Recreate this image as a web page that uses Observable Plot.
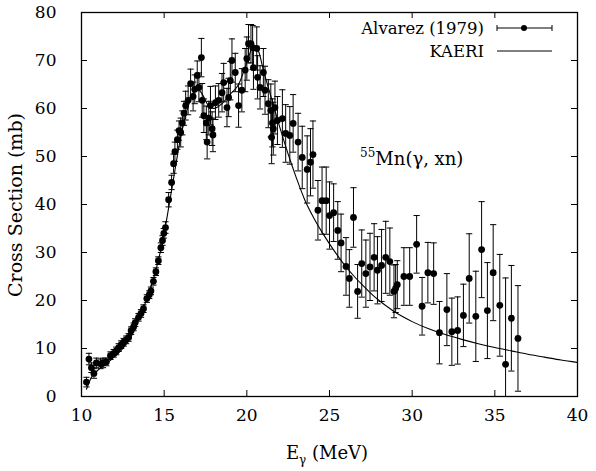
<!DOCTYPE html>
<html><head><meta charset="utf-8">
<script src="https://cdn.jsdelivr.net/npm/d3@7"></script>
<script src="https://cdn.jsdelivr.net/npm/@observablehq/plot@0.6"></script>
<style>body{margin:0;background:#fff}</style>
</head><body><div id="chart"></div>
<script>
// Alvarez (1979) data: photon energy (MeV), cross section (mb), error (mb)
const alvarezE = [10.3,10.45,10.6,10.75,10.9,11.15,11.3,11.5,11.75,11.95,12.1,12.25,12.4,12.55,12.7,12.85,13.0,13.15,13.25,13.45,13.6,13.75,13.95,14.1,14.2,14.35,14.5,14.65,14.8,14.9,14.98,15.08,15.27,15.45,15.57,15.65,15.8,15.9,16.0,16.1,16.2,16.3,16.45,16.6,16.75,16.85,17.0,17.1,17.25,17.3,17.4,17.55,17.6,17.7,17.8,17.9,17.95,18.1,18.3,18.5,18.6,18.8,18.9,19.0,19.1,19.3,19.5,19.7,19.9,20.0,20.1,20.25,20.35,20.4,20.6,20.65,20.8,21.0,21.1,21.3,21.45,21.5,21.55,21.6,21.7,21.85,22.15,22.35,22.6,22.8,23.1,23.35,23.65,23.85,24.0,24.3,24.55,24.8,25.0,25.25,25.5,25.7,26.0,26.2,26.45,26.7,26.95,27.2,27.45,27.7,27.9,28.15,28.4,28.65,28.9,29.0,29.1,29.5,29.85,30.27,30.6,30.95,31.3,31.65,32.1,32.4,32.75,33.1,33.45,33.85,34.2,34.55,34.9,35.3,35.65,36.0,36.4];
const alvarezSigma = [3.0,7.8,6.0,4.8,7.0,6.8,7.0,7.2,8.5,9.0,9.5,10.2,10.8,11.3,11.8,12.3,13.7,14.5,15.4,16.5,17.3,18.3,20.4,21.2,22.0,24.0,26.0,28.3,31.0,32.5,34.0,35.2,41.0,44.6,48.5,51.0,53.5,55.4,55.0,57.0,59.0,60.6,61.7,65.2,62.5,64.0,66.9,64.4,70.6,61.7,58.5,57.0,53.0,58.0,60.6,55.8,54.5,61.2,61.7,63.3,65.4,60.2,62.3,65.8,70.0,67.5,60.6,63.8,68.0,70.4,73.5,73.5,72.7,68.5,72.5,66.5,64.4,67.5,63.8,61.0,59.6,54.0,57.0,55.8,60.2,57.5,57.9,54.8,54.4,56.9,53.0,49.8,47.3,48.8,50.4,38.8,40.8,40.8,37.7,38.3,34.6,32.0,27.1,24.6,37.3,21.9,27.7,25.6,27.0,29.0,26.3,27.3,29.0,28.1,21.9,22.5,23.3,25.0,25.0,31.7,18.8,25.8,25.6,13.3,18.1,13.5,13.75,16.9,24.6,16.7,30.6,17.9,25.8,19.0,6.7,16.3,12.1];
const alvarezErr = [1.0,1.2,1.0,1.0,1.0,1.0,1.0,0.8,0.8,0.8,0.8,0.8,0.8,0.8,0.8,0.8,0.8,0.8,0.8,0.8,0.8,0.8,0.8,0.8,0.8,0.8,0.8,0.8,1.0,1.0,1.0,1.2,1.5,1.5,2.0,2.0,2.0,2.0,3.0,2.5,2.5,3.0,3.0,3.0,3.0,3.0,3.0,3.0,4.0,3.5,3.5,3.5,3.5,3.5,4.0,3.5,3.5,3.5,3.5,4.0,4.0,4.0,4.0,4.0,4.5,4.0,4.5,4.5,4.5,4.5,4.0,4.0,4.6,4.5,4.5,4.5,4.5,5.0,5.0,5.0,5.5,5.5,5.0,5.5,5.5,5.0,6.0,6.0,6.0,6.0,6.0,6.5,7.0,7.0,7.0,6.2,7.0,7.0,7.0,6.0,6.0,6.0,6.0,6.0,6.2,5.6,7.0,7.0,7.0,7.0,7.0,7.5,7.5,7.0,5.5,5.0,5.0,6.0,6.0,6.0,6.0,6.3,6.4,6.5,7.5,7.0,7.0,6.5,9.3,9.4,10.0,10.0,10.0,10.6,18.0,11.0,11.0];

// KAERI evaluation
const kaeriE = [10.3,10.6,11.0,11.5,12.0,12.5,13.0,13.5,14.0,14.5,15.0,15.5,16.0,16.5,17.0,17.3,17.6,18.0,18.5,19.0,19.5,20.0,20.4,20.7,21.0,21.5,22.0,22.5,23.0,23.5,24.0,24.5,25.0,25.5,26.0,26.5,27.0,27.5,28.0,28.5,29.0,29.5,30.0,31.0,32.0,33.0,34.0,35.0,36.0,37.0,38.0,39.0,40.0];
const kaeriSigma = [1.5,4.0,5.5,6.8,8.3,10.0,12.5,16.3,20.8,26.3,34.0,44.0,54.0,61.0,64.0,63.0,61.0,60.0,61.0,63.0,65.0,69.5,73.0,72.0,68.0,62.0,56.0,50.5,45.5,41.0,37.5,34.5,31.8,29.3,27.0,25.0,23.2,21.5,20.0,18.7,17.5,16.5,15.6,14.1,12.9,11.9,11.0,10.2,9.5,8.8,8.2,7.6,7.1];

const xTicks = [10,15,20,25,30,35,40];
const yTicks = [0,10,20,30,40,50,60,70,80];
const legendLabels = ["Alvarez (1979)", "KAERI"];

const alvarez = alvarezE.map((x,i)=>({x, y: alvarezSigma[i], e: alvarezErr[i]}));
const kaeri = kaeriE.map((x,i)=>({x, y: kaeriSigma[i]}));
const cap = {draw(ctx, size){ const w = Math.sqrt(size)/2; ctx.moveTo(-w,0); ctx.lineTo(w,0);} };
const FONT = "'DejaVu Serif'";

const W = 596, H = 471, ML = 81, MR = 19, MT = 12, MB = 75, TICK = 6;
const innerW = W - ML - MR, innerH = H - MT - MB;

const chart = Plot.plot({
  width: W, height: H,
  marginLeft: ML, marginRight: MR, marginTop: MT, marginBottom: MB,
  style: {fontSize: "17px", color: "#000", background: "#fff"},
  x: {domain: [10,40]},
  y: {domain: [0,80]},
  marks: [
    Plot.axisX(xTicks, {anchor:"bottom", tickSize: 0, tickPadding: 12, label: null}),
    Plot.axisY(yTicks, {anchor:"left", tickSize: 0, tickPadding: 25, label: null}),
    // inward, mirrored ticks
    Plot.tickX(xTicks, {x: d => d, insetTop: innerH - TICK, stroke: "#000"}),
    Plot.tickX(xTicks, {x: d => d, insetBottom: innerH - TICK, stroke: "#000"}),
    Plot.tickY(yTicks, {y: d => d, insetRight: innerW - TICK, stroke: "#000"}),
    Plot.tickY(yTicks, {y: d => d, insetLeft: innerW - TICK, stroke: "#000"}),
    Plot.line(kaeri, {x:"x", y:"y", stroke:"#000", strokeWidth: 1.1, curve: "monotone-x", clip: true}),
    Plot.ruleX(alvarez, {x:"x", y1: d=>d.y-d.e, y2: d=>d.y+d.e, stroke:"#000", strokeWidth: 1, clip: true}),
    Plot.dot(alvarez, {x:"x", y: d=>d.y-d.e, symbol: cap, r: 3.5, fill: "none", stroke:"#000", strokeWidth: 1, clip: true}),
    Plot.dot(alvarez, {x:"x", y: d=>d.y+d.e, symbol: cap, r: 3.5, fill: "none", stroke:"#000", strokeWidth: 1, clip: true}),
    Plot.dot(alvarez, {x:"x", y:"y", r: 3.4, fill:"#000", stroke: "none"}),
    Plot.frame({stroke: "#000", strokeWidth: 1.3})
  ]
});
chart.style.fontFamily = FONT;

const svg = d3.select(chart);
const sx = chart.scale("x"), sy = chart.scale("y");
const g = svg.append("g").attr("fill", "#000").attr("text-anchor", "start").style("font-family", FONT);

// y-axis label
g.append("text").attr("transform", "translate(22,205) rotate(-90)")
  .attr("text-anchor", "middle").attr("font-size", 19).text("Cross Section (mb)");
// x-axis label
const xl = g.append("text").attr("x", 327).attr("y", 459).attr("text-anchor", "middle").attr("font-size", 18);
xl.append("tspan").text("E");
xl.append("tspan").attr("font-size", 12).attr("dy", 5).text("γ");
xl.append("tspan").attr("dy", -5).text(" (MeV)");

// reaction annotation
const ann = g.append("text").attr("x", sx.apply(26.88)).attr("y", sy.apply(48.1)).attr("font-size", 18).attr("text-anchor", "start");
ann.append("tspan").attr("font-size", 12).attr("dy", -8).text("55");
ann.append("tspan").attr("dy", 8).text("Mn(γ, xn)");

// legend
const lg = svg.append("g").style("font-family", FONT).attr("font-size", 16.5);
[28, 51].forEach((yy, i) => {
  lg.append("text").attr("x", 484).attr("y", yy).attr("dy", "0.35em").attr("text-anchor", "end").text(legendLabels[i]);
  lg.append("line").attr("x1", 497).attr("x2", 552).attr("y1", yy).attr("y2", yy).attr("stroke", "#000").attr("stroke-width", 1);
});
lg.append("line").attr("x1", 497).attr("x2", 497).attr("y1", 25).attr("y2", 31).attr("stroke", "#000");
lg.append("line").attr("x1", 552).attr("x2", 552).attr("y1", 25).attr("y2", 31).attr("stroke", "#000");
lg.append("circle").attr("cx", 524).attr("cy", 28).attr("r", 3).attr("fill", "#000");

document.getElementById("chart").appendChild(chart);
</script>
</body></html>
